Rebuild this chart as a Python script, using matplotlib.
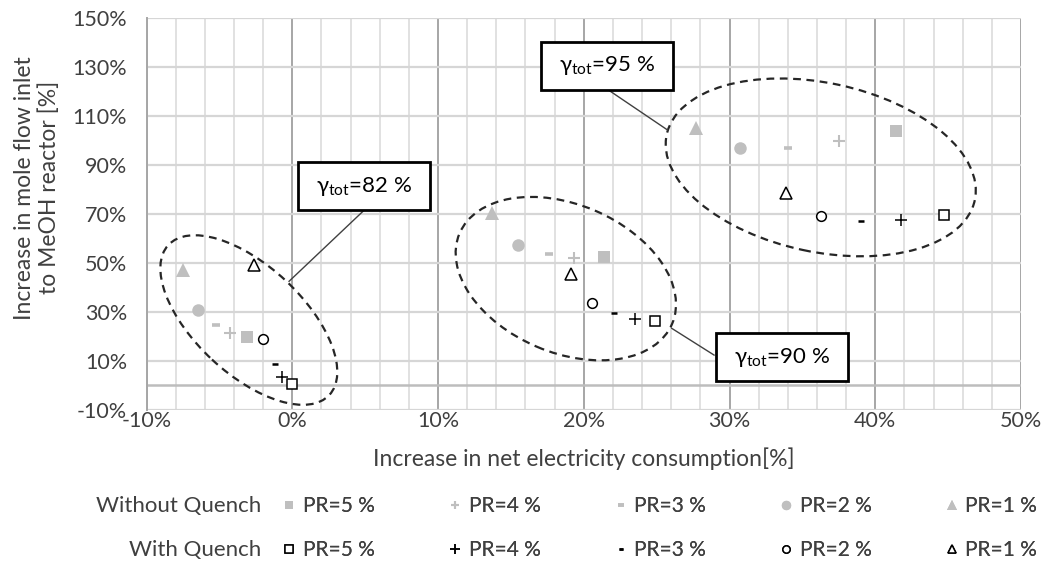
import matplotlib
matplotlib.use("Agg")
import matplotlib.pyplot as plt
from matplotlib.patches import Ellipse, Rectangle
from matplotlib.transforms import ScaledTranslation

plt.rcParams['font.family'] = ['Lato', 'DejaVu Sans']
plt.rcParams['mathtext.fontset'] = 'custom'
plt.rcParams['mathtext.rm'] = 'Lato'
plt.rcParams['mathtext.default'] = 'regular'

# pressure ratio levels, one series per level
pr_levels = [5, 4, 3, 2, 1]
pr_labels = ["PR=5 %", "PR=4 %", "PR=3 %", "PR=2 %", "PR=1 %"]

# values for the three efficiency groups (gamma_tot = 82 %, 90 %, 95 %)
gamma_labels = ["82 %", "90 %", "95 %"]

# without quench: increase in net electricity consumption [%]
without_x = [[-3.1, 21.4, 41.4],   # PR=5
             [-4.3, 19.3, 37.5],   # PR=4
             [-5.2, 17.6, 34.0],   # PR=3
             [-6.5, 15.5, 30.7],   # PR=2
             [-7.5, 13.7, 27.7]]   # PR=1
# without quench: increase in mole flow inlet [%]
without_y = [[19.5, 52.2, 103.9],
             [21.4, 52.0, 99.7],
             [24.7, 53.6, 96.9],
             [30.7, 57.2, 96.9],
             [47.0, 70.2, 104.9]]

# with quench
with_x = [[0.0, 24.9, 44.7],
          [-0.7, 23.5, 41.8],
          [-1.2, 22.1, 39.0],
          [-2.0, 20.6, 36.3],
          [-2.6, 19.1, 33.9]]
with_y = [[0.5, 26.3, 69.5],
          [3.5, 27.0, 67.4],
          [8.6, 29.3, 67.1],
          [18.9, 33.4, 69.2],
          [49.1, 45.3, 78.3]]

grey = "#bfbfbf"
txt = "#404040"
fs = 15.5
markers = ['s', '+', '_', 'o', '^']
grey_sizes = [8.5, 8.5, 5.5, 9.0, 9.5]
grey_mew = [0, 1.5, 2.6, 0, 0]
open_sizes = [7.5, 9.0, 4.5, 7.0, 8.5]
open_mew = [1.1, 1.1, 1.8, 1.1, 1.1]

fig = plt.figure(figsize=(10.41, 5.62), dpi=100)
ax = fig.add_axes([146.5 / 1041, 1 - 409.7 / 562, 874.5 / 1041, 392 / 562])

ax.set_xlim(-10, 50)
ax.set_ylim(-10, 150)
ax.set_xticks(range(-10, 51, 10))
ax.set_xticks(range(-10, 51, 2), minor=True)
ax.set_yticks(range(-10, 151, 20))
ax.xaxis.set_major_formatter(lambda v, p: f"{v:.0f}%")
ax.yaxis.set_major_formatter(lambda v, p: f"{v:.0f}%")
ax.tick_params(which='both', length=0, labelsize=fs, colors=txt)
ax.tick_params(axis='y', pad=14)
ax.tick_params(axis='x', pad=1)

ax.grid(which='minor', axis='x', color='#dcdcdc', lw=1.2)
ax.grid(which='major', axis='x', color='#a6a6a6', lw=1.4)
ax.grid(which='major', axis='y', color='#d6d6d6', lw=1.6)
ax.axhline(0, color='#bdbdbd', lw=1.8, zorder=1)
ax.set_axisbelow(True)
for s in ['top', 'right', 'bottom']:
    ax.spines[s].set_visible(False)
ax.spines['left'].set_color('#a6a6a6')
ax.spines['left'].set_linewidth(1.4)

without_handles = []
with_handles = []
for i in range(len(pr_levels)):
    h1, = ax.plot(without_x[i], without_y[i], linestyle='none', marker=markers[i],
                  ms=grey_sizes[i], color=grey, mec=grey, mew=grey_mew[i],
                  label=pr_labels[i], zorder=3)
    h2, = ax.plot(with_x[i], with_y[i], linestyle='none', marker=markers[i],
                  ms=open_sizes[i], color='black', mfc='white', mec='black',
                  mew=open_mew[i], label=pr_labels[i], zorder=3)
    without_handles.append(h1)
    with_handles.append(h2)

# dashed ellipses around each group, sized in inches so they stay round on screen
groups = [(-2.98, 26.6, 2.20, 1.08, -43),   # 82 %
          (18.77, 43.5, 2.31, 1.48, -23),   # 90 %
          (36.26, 88.9, 3.15, 1.69, -12)]   # 95 %
for cx, cy, w, h, ang in groups:
    tr = fig.dpi_scale_trans + ScaledTranslation(cx, cy, ax.transData)
    ax.add_patch(Ellipse((0, 0), w, h, angle=ang, transform=tr, fill=False,
                         ec='#262626', lw=1.6, ls=(0, (3.5, 2.5)), zorder=2))

# label boxes with leader lines
boxes = [(4.91, 81.2, (4.91, -0.22), (71.3, 42.4)),
         (33.6, 11.5, (26.04, 28.94), (23.2, 12.3)),
         (21.58, 130.3, (21.69, 25.74), (120.5, 104.2))]
for (bx, by, lx, ly), g in zip(boxes, gamma_labels):
    ax.plot(lx, ly, color='#404040', lw=1.0, zorder=4)
    tr = fig.dpi_scale_trans + ScaledTranslation(bx, by, ax.transData)
    ax.add_patch(Rectangle((-0.66, -0.24), 1.32, 0.48, transform=tr, fc='white',
                           ec='black', lw=2, zorder=5))
    ax.text(bx, by, r"$\gamma_{tot}$=" + g, ha='center', va='center',
            fontsize=16, zorder=6)

ax.set_xlabel("Increase in net electricity consumption[%]", fontsize=16.5,
              color=txt, labelpad=12)
ax.set_ylabel("Increase in mole flow inlet\nto MeOH reactor [%]", fontsize=16.5,
              color=txt, va='center')
ax.yaxis.set_label_coords(-0.125, 0.566)

# two legend rows below the chart
row_y = [1 - 506 / 562, 1 - 550 / 562]
row_names = ["Without Quench", "With Quench"]
for handles, ry, name in zip([without_handles, with_handles], row_y, row_names):
    fig.text(261 / 1041, ry, name, ha='right', va='center', fontsize=16,
             color=txt)
    leg = fig.legend(handles=handles, ncol=5, loc='center left',
                     bbox_to_anchor=(280 / 1041, ry), frameon=False,
                     fontsize=15, markerscale=0.75, handlelength=0.9,
                     handletextpad=0.2, columnspacing=3.4, borderpad=0,
                     borderaxespad=0, numpoints=1)
    for t in leg.get_texts():
        t.set_color(txt)
    fig.add_artist(leg)

fig.savefig("out.png", dpi=100)
